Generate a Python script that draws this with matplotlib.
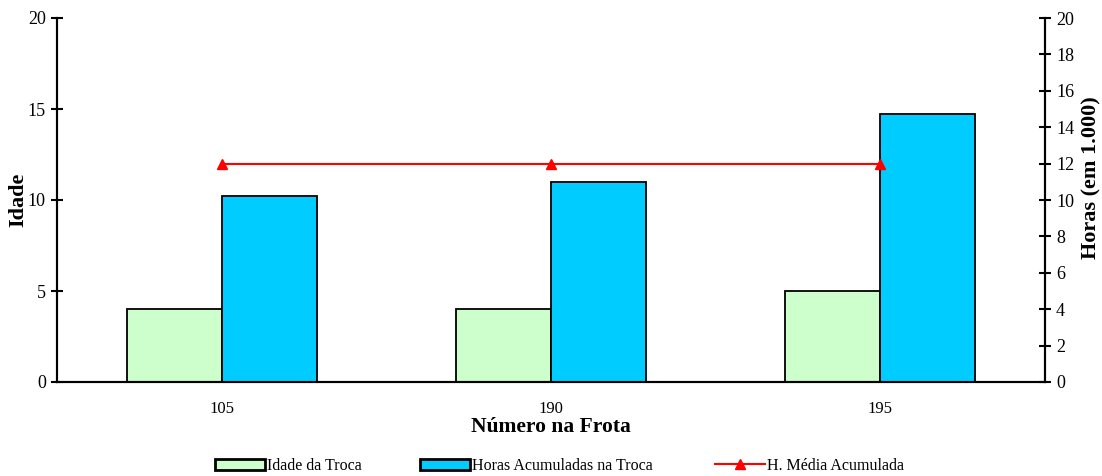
import matplotlib
matplotlib.use("Agg")
import matplotlib.pyplot as plt
import numpy as np
from matplotlib.patches import Patch
from matplotlib.lines import Line2D

categories = ["105", "190", "195"]
idade_troca = [4, 4, 5]
horas_acumuladas = [10.2, 11.0, 14.7]
h_media = [12, 12, 12]

plt.rcParams['font.family'] = ['Liberation Serif', 'DejaVu Serif']

fig = plt.figure(figsize=(11.02, 4.76), dpi=100)
ax = fig.add_axes([57/1102, 1-382/476, (1045-57)/1102, (382-18)/476])
ax2 = ax.twinx()

x = np.arange(len(categories))
w = 0.288
ax.bar(x - w/2, idade_troca, w, color='#ccffcc', edgecolor='black', linewidth=1.3, zorder=2)
ax2.bar(x + w/2, horas_acumuladas, w, color='#00ccff', edgecolor='black', linewidth=1.3, zorder=2)
ax2.plot(x, h_media, color='red', linewidth=1.5, marker='^', markersize=7, zorder=3)

ax.set_xlim(-0.5, 2.5)
ax.set_ylim(0, 20)
ax2.set_ylim(0, 20)
ax.set_yticks([0, 5, 10, 15, 20])
ax2.set_yticks(range(0, 21, 2))
ax.set_xticks(x)
ax.set_xticklabels(categories)
ax.tick_params(axis='x', length=0, labelsize=12, pad=14)
ax.tick_params(axis='y', direction='inout', length=8, width=1.5, labelsize=13, pad=4)
ax2.tick_params(axis='y', direction='inout', length=8, width=1.5, labelsize=13, pad=4)

for a in (ax, ax2):
    a.spines['top'].set_visible(False)
    a.spines['left'].set_linewidth(1.5)
    a.spines['right'].set_linewidth(1.5)
    a.spines['bottom'].set_linewidth(1.5)

ax.set_xlabel("Número na Frota", fontsize=15.5, fontweight='bold', labelpad=0)
ax.set_ylabel("Idade", fontsize=16, fontweight='bold', labelpad=0)
fig.text(1091/1102, 1-178/476, "Horas (em 1.000)", rotation=90, fontsize=16,
         fontweight='bold', ha='center', va='center')

handles = [
    Patch(facecolor='#ccffcc', edgecolor='black', linewidth=2, label='Idade da Troca'),
    Patch(facecolor='#00ccff', edgecolor='black', linewidth=2, label='Horas Acumuladas na Troca'),
    Line2D([0], [0], color='red', linewidth=1.5, marker='^', markersize=7, label='H. Média Acumulada'),
]
xs = [215, 420, 715]
for h, xp in zip(handles, xs):
    fig.legend(handles=[h], loc='center left', bbox_to_anchor=(xp/1102, 1-466/476),
               frameon=False, fontsize=11.5, handlelength=3.1, handletextpad=0.15,
               handleheight=0.75, borderpad=0, borderaxespad=0)

fig.savefig("out.png", dpi=100)
